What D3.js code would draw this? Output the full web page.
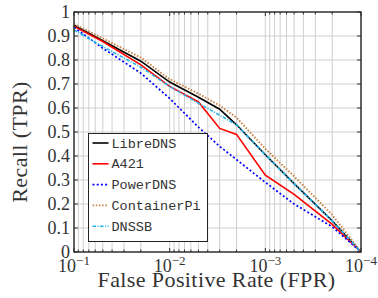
<!DOCTYPE html>
<html>
<head>
<meta charset="utf-8">
<script src="https://cdn.jsdelivr.net/npm/d3@7"></script>
<style>
  body { margin: 0; background: #fff; }
  svg { display: block; }
  .serif { font-family: "Liberation Serif", "DejaVu Serif", "Times New Roman", serif; font-weight: normal; }
  .mono { font-family: "Liberation Mono", "DejaVu Sans Mono", "Courier New", monospace; font-weight: normal; }
</style>
</head>
<body>
<div id="chart"></div>
<script>
const margin = {'top':12,'right':17,'bottom':46,'left':74};
const width = 378 - margin.left - margin.right;
const height = 298 - margin.top - margin.bottom;

// values
const fpr = [1e-1, 5e-2, 2e-2, 1e-2, 5e-3, 3e-3, 2e-3, 1e-3, 5e-4, 2e-4, 1e-4];
const libreDNS = [0.945, 0.88, 0.795, 0.708, 0.645, 0.595, 0.53, 0.405, 0.285, 0.13, 0.0];
const a421 = [0.94, 0.877, 0.78, 0.69, 0.625, 0.515, 0.49, 0.32, 0.24, 0.115, 0.0];
const powerDNS = [0.936, 0.849, 0.745, 0.64, 0.52, 0.44, 0.385, 0.29, 0.2, 0.105, 0.0];
const containerPi = [0.95, 0.89, 0.81, 0.72, 0.66, 0.61, 0.56, 0.43, 0.315, 0.155, 0.0];
const dnssb = [0.925, 0.856, 0.77, 0.69, 0.62, 0.57, 0.53, 0.405, 0.285, 0.13, 0.0];

const seriesNames = ['LibreDNS', 'A421', 'PowerDNS', 'ContainerPi', 'DNSSB'];
const seriesValues = [libreDNS, a421, powerDNS, containerPi, dnssb];
const seriesColors = ['#000000', '#ff0000', '#0000ff', '#c8864a', '#22b4ee'];
const seriesDash = ['none', 'none', '2,2.2', '1.6,1.6', '3.5,1.5,1,1.5'];
const seriesWidth = [1.6, 1.6, 1.7, 1.9, 1.6];

const xMajor = [1e-1, 1e-2, 1e-3, 1e-4];
const xMajorExp = ['\u22121', '\u22122', '\u22123', '\u22124'];
const yTicks = [0, 0.1, 0.2, 0.3, 0.4, 0.5, 0.6, 0.7, 0.8, 0.9, 1];

var svg = d3.select('#chart')
  .append('svg')
  .attr('width', width + margin.left + margin.right)
  .attr('height', height + margin.top + margin.bottom)
  .append('g')
  .attr('transform', `translate(${margin.left},${margin.top})`);

var x = d3.scaleLog().domain([1e-1, 1e-4]).range([0, width]);
var y = d3.scaleLinear().domain([0, 1]).range([height, 0]);

// minor x ticks 2..9 per decade
var xMinor = [];
[1e-2, 1e-3, 1e-4].forEach(function(b){
  for (let k = 2; k <= 9; k++) xMinor.push(+(k * b).toPrecision(3));
});

// grid
svg.append('g').selectAll('line')
  .data(xMinor.concat(xMajor))
  .enter().append('line')
  .attr('x1', d => x(d)).attr('x2', d => x(d))
  .attr('y1', 0).attr('y2', height)
  .attr('stroke', '#cfcfcf').attr('stroke-width', 1);
svg.append('g').selectAll('line')
  .data(yTicks)
  .enter().append('line')
  .attr('x1', 0).attr('x2', width)
  .attr('y1', d => y(d)).attr('y2', d => y(d))
  .attr('stroke', '#cfcfcf').attr('stroke-width', 1);

// inner tick marks
var ticks = svg.append('g').attr('stroke', '#333').attr('stroke-width', 1);
yTicks.forEach(function(d){
  ticks.append('line').attr('x1', 0).attr('x2', 4).attr('y1', y(d)).attr('y2', y(d));
  ticks.append('line').attr('x1', width - 4).attr('x2', width).attr('y1', y(d)).attr('y2', y(d));
});
xMajor.forEach(function(d){
  ticks.append('line').attr('x1', x(d)).attr('x2', x(d)).attr('y1', height).attr('y2', height - 4);
  ticks.append('line').attr('x1', x(d)).attr('x2', x(d)).attr('y1', 0).attr('y2', 4);
});
xMinor.forEach(function(d){
  ticks.append('line').attr('x1', x(d)).attr('x2', x(d)).attr('y1', height).attr('y2', height - 2.5);
  ticks.append('line').attr('x1', x(d)).attr('x2', x(d)).attr('y1', 0).attr('y2', 2.5);
});

// curves
var line = d3.line()
  .x((d, i) => x(fpr[i]))
  .y(d => y(d));

seriesValues.forEach(function(vals, i){
  svg.append('path')
    .datum(vals)
    .attr('d', line)
    .attr('fill', 'none')
    .attr('stroke', seriesColors[i])
    .attr('stroke-width', seriesWidth[i])
    .attr('stroke-dasharray', seriesDash[i]);
});

// frame
svg.append('rect')
  .attr('x', 0).attr('y', 0).attr('width', width).attr('height', height)
  .attr('fill', 'none').attr('stroke', '#2a2a2a').attr('stroke-width', 1.4);

// y tick labels
svg.append('g').selectAll('text')
  .data(yTicks)
  .enter().append('text')
  .attr('class', 'serif')
  .attr('x', -4)
  .attr('y', d => y(d) + 6)
  .attr('text-anchor', 'end')
  .style('font-size', '18px')
  .attr('fill', '#333')
  .text(d => d === 0 || d === 1 ? d3.format('d')(d) : d3.format('.1f')(d));

// x tick labels
var xl = svg.append('g').selectAll('text')
  .data(xMajor)
  .enter().append('text')
  .attr('class', 'serif')
  .attr('x', d => x(d))
  .attr('y', height + 19.5)
  .attr('text-anchor', 'middle')
  .style('font-size', '18px')
  .attr('fill', '#333');
xl.append('tspan').text('10');
xl.append('tspan')
  .attr('dy', -7)
  .style('font-size', '13px')
  .text((d, i) => xMajorExp[i]);

// axis titles
svg.append('text')
  .attr('class', 'serif')
  .attr('x', width / 2 - 1)
  .attr('y', height + 35)
  .attr('text-anchor', 'middle')
  .style('font-size', '22px')
  .style('letter-spacing', '0.4px')
  .attr('fill', '#333')
  .text('False Positive Rate (FPR)');

svg.append('text')
  .attr('class', 'serif')
  .attr('transform', `translate(-47,${height / 2 + 10}) rotate(-90)`)
  .attr('text-anchor', 'middle')
  .style('font-size', '22px')
  .style('letter-spacing', '0.4px')
  .attr('fill', '#333')
  .text('Recall (TPR)');

// legend
var lg = svg.append('g').attr('transform', `translate(${88.5 - margin.left},${133.5 - margin.top})`);
lg.append('rect')
  .attr('width', 119).attr('height', 108)
  .attr('fill', '#fff').attr('stroke', '#222').attr('stroke-width', 1);
seriesNames.forEach(function(name, i){
  var row = lg.append('g').attr('transform', `translate(0,${9.5 + i * 20.8})`);
  row.append('line')
    .attr('x1', 4).attr('x2', 20)
    .attr('stroke', seriesColors[i])
    .attr('stroke-width', seriesWidth[i])
    .attr('stroke-dasharray', seriesDash[i]);
  row.append('text')
    .attr('class', 'mono')
    .attr('x', 23).attr('y', 4.5)
    .style('font-size', '13.5px')
    .attr('fill', '#333')
    .text(name);
});
</script>
</body>
</html>
